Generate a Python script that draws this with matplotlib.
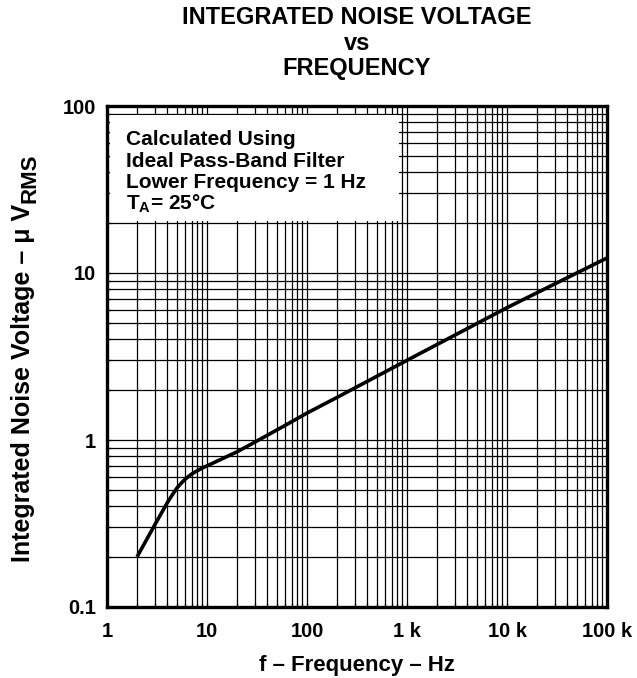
import numpy as np
import matplotlib
matplotlib.use("Agg")
from matplotlib import pyplot as plt
from matplotlib.patches import Rectangle
from matplotlib.ticker import LogLocator, FixedLocator, NullFormatter

plt.rcParams['font.family'] = ['Liberation Sans', 'DejaVu Sans']
plt.rcParams['font.weight'] = 'bold'
plt.rcParams['mathtext.fontset'] = 'custom'
plt.rcParams['mathtext.rm'] = 'Liberation Sans:bold'
plt.rcParams['mathtext.it'] = 'Liberation Sans:bold'
plt.rcParams['mathtext.bf'] = 'Liberation Sans:bold'

# curve
freq = [2, 3, 3.5, 4, 4.5, 5, 5.5, 6, 7, 8, 9, 10, 20, 30, 60, 100, 200, 700, 1000, 10000, 100000]
noise = [0.2, 0.31, 0.365, 0.42, 0.47, 0.515, 0.55, 0.58, 0.625, 0.655, 0.68, 0.70, 0.85, 0.97, 1.22, 1.45, 1.8, 2.68, 3.0, 6.2, 12.3]

xticks = [1, 10, 100, 1000, 10000, 100000]
xlabels = ['1', '10', '100', '1 k', '10 k', '100 k']
yticks = [0.1, 1, 10, 100]
ylabels = ['0.1', '1', '10', '100']

fig = plt.figure(figsize=(6.37, 6.78), dpi=100)
ax = fig.add_axes([107/637, 1 - 607/678, 500/637, 501/678])

ax.set_xscale('log')
ax.set_yscale('log')
ax.set_xlim(1, 100000)
ax.set_ylim(0.1, 100)

ax.plot(freq, noise, color='black', lw=2.6, zorder=3, solid_capstyle='butt', solid_joinstyle='round')

ax.xaxis.set_major_locator(FixedLocator(xticks))
ax.set_xticklabels(xlabels)
ax.yaxis.set_major_locator(FixedLocator(yticks))
ax.set_yticklabels(ylabels)
ax.xaxis.set_minor_locator(LogLocator(base=10, subs=np.arange(2, 10)))
ax.yaxis.set_minor_locator(LogLocator(base=10, subs=np.arange(2, 10)))
ax.xaxis.set_minor_formatter(NullFormatter())
ax.yaxis.set_minor_formatter(NullFormatter())

ax.set_axisbelow(True)
ax.grid(which='both', color='black', lw=0.9)
ax.tick_params(which='both', direction='in', length=3, width=0.9, labelsize=14.5)
ax.tick_params(axis='x', pad=11)
ax.tick_params(axis='y', pad=8)
for s in ax.spines.values():
    s.set_linewidth(2.4)

# white box behind the notes
ax.add_patch(Rectangle((0.006, 0.770), 0.578, 0.212, transform=ax.transAxes,
                       facecolor='white', edgecolor='none', zorder=1))
notes = ['Calculated Using', 'Ideal Pass-Band Filter', 'Lower Frequency = 1 Hz', 'T$_{A}$= 25°C']
for i, t in enumerate(notes):
    ax.text(0.038, 0.933 - i * 0.043, t, transform=ax.transAxes, fontsize=15,
            fontweight='bold', va='center', ha='left', zorder=4)

ax.set_xlabel('f – Frequency – Hz', fontsize=16, fontweight='bold', labelpad=10)

# y label with a full-size, lowered RMS subscript
ylab = fig.text(23/637, (678 - 562)/678, 'Integrated Noise Voltage – μ V', rotation=90,
                ha='center', va='bottom', fontsize=18, fontweight='bold')
fig.canvas.draw()
bb = ylab.get_window_extent()
fig.text((bb.x0 + 9) / fig.bbox.width, (bb.y1 + 1) / fig.bbox.height, 'RMS', rotation=90,
         ha='left', va='bottom', fontsize=16, fontweight='bold')

fig.text(357/637, 1 - 17/678, 'INTEGRATED NOISE VOLTAGE', ha='center', va='center', fontsize=17, fontweight='bold')
fig.text(357/637, 1 - 43/678, 'vs', ha='center', va='center', fontsize=17, fontweight='bold')
fig.text(357/637, 1 - 68/678, 'FREQUENCY', ha='center', va='center', fontsize=17, fontweight='bold')

fig.savefig('out.png', dpi=100)
